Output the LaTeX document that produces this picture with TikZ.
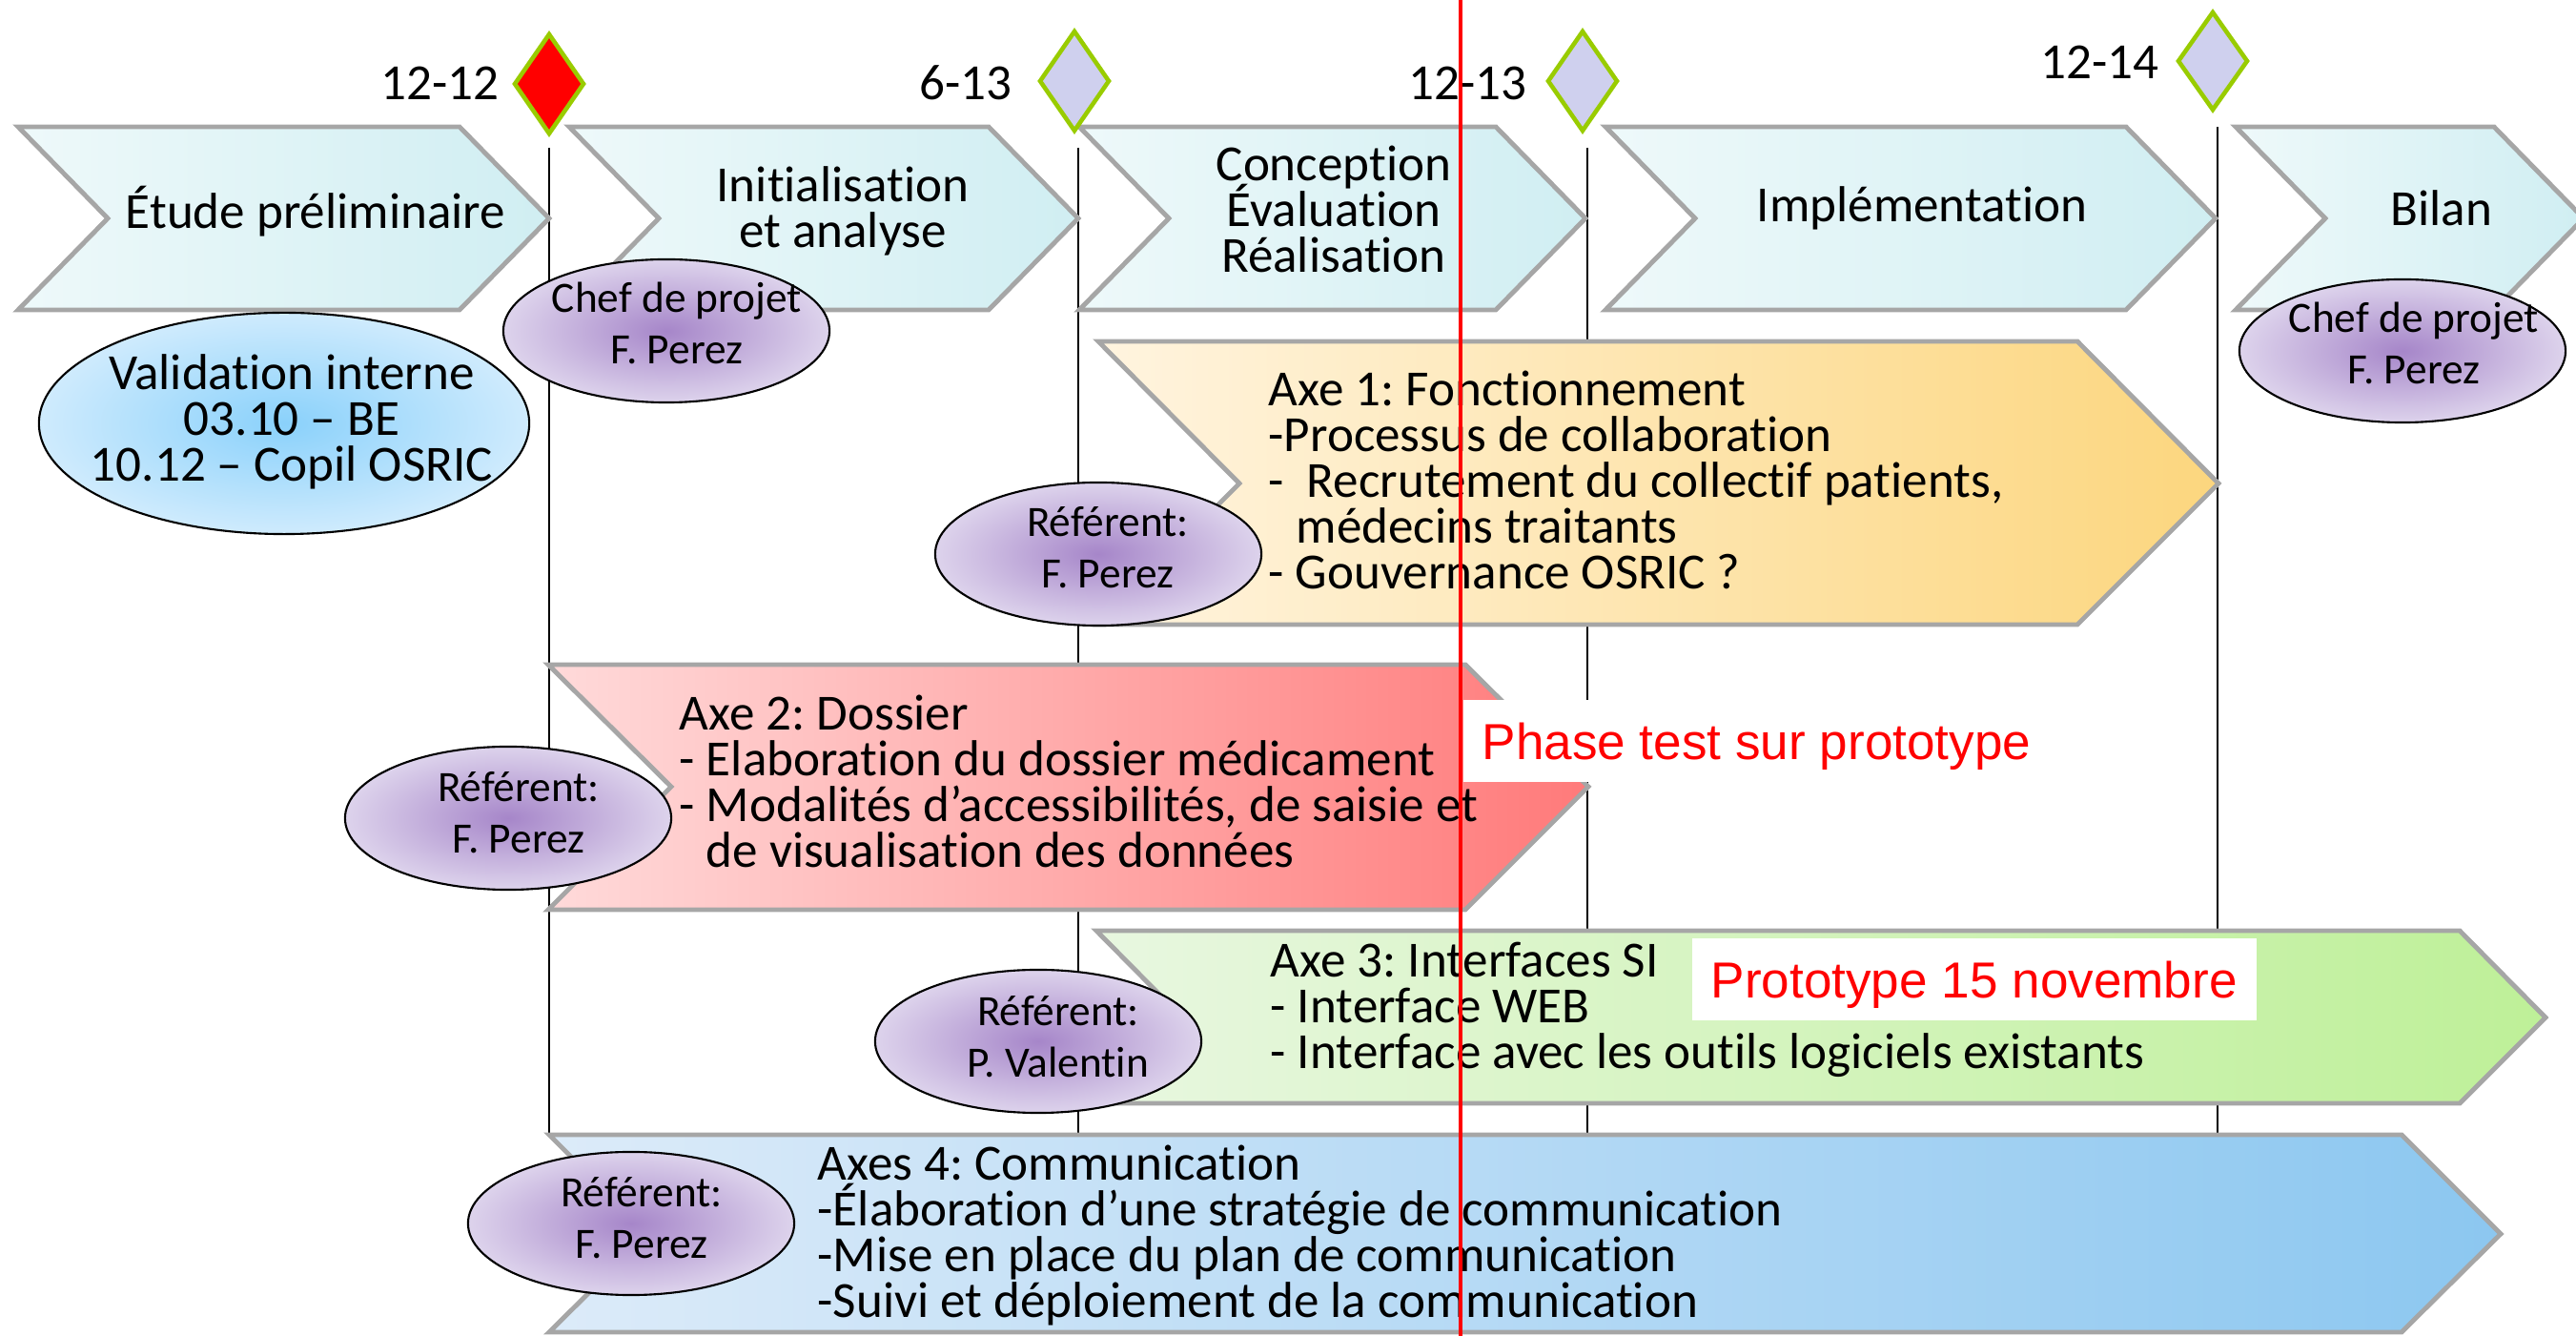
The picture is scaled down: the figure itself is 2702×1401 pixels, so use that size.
\documentclass[tikz,border=0pt]{standalone}
\usepackage{fontspec}
\setmainfont{Carlito}[Ligatures=NoCommon]
\newfontfamily\arialfont{Liberation Sans}
\usetikzlibrary{shapes.geometric}
\frenchspacing
\definecolor{chevgray}{HTML}{A6A6A6}
\definecolor{cyanl}{HTML}{EEF9FA}
\definecolor{cyanr}{HTML}{D0EEF2}
\definecolor{yell}{HTML}{FFF4DF}
\definecolor{yelr}{HTML}{FCD67E}
\definecolor{redl}{HTML}{FFDADA}
\definecolor{redr}{HTML}{FF7A7A}
\definecolor{grnl}{HTML}{E8F7E0}
\definecolor{grnr}{HTML}{BEF098}
\definecolor{blul}{HTML}{DCEBF9}
\definecolor{blur}{HTML}{8CC7F0}
\definecolor{purin}{HTML}{A686C9}
\definecolor{purout}{HTML}{DDD3EC}
\definecolor{skyin}{HTML}{8AD1FB}
\definecolor{skyout}{HTML}{CFEBFD}
\definecolor{msgreen}{HTML}{99CC00}
\definecolor{lav}{HTML}{CFD0EE}
\newcommand\fmain{\fontsize{15.1pt}{13.66pt}\selectfont\lineskiplimit=-\maxdimen}
\newcommand\fsmall{\fontsize{12.9pt}{15.6pt}\selectfont\lineskiplimit=-\maxdimen}
\newcommand\fred{\arialfont\fontsize{15.1pt}{18pt}\selectfont}
\tikzset{
  phasebox/.style={draw=chevgray, line width=1.4pt, line join=miter},
  mline/.style={black, line width=0.6pt},
  msdiam/.style={draw=msgreen, line width=1.3pt, line join=miter},
  person/.style={ellipse, draw=black, line width=0.6pt, inner sep=0pt,
    minimum width=3.42cm, minimum height=1.5cm, inner color=purin, outer color=purout},
  txt/.style={inner sep=0pt, font=\fmain},
  smalltxt/.style={inner sep=0pt, font=\fsmall, align=center, anchor=base},
  redtxt/.style={font=\fred, text=red, fill=white, inner xsep=0.2cm, inner ysep=0pt,
    text height=0.38cm, text depth=0pt, minimum height=0.85cm},
  redline/.style={red, line width=1.15pt}
}
\begin{document}
\begin{tikzpicture}[x=0.01cm,y=-0.01cm]
\useasboundingbox (0,0) rectangle (2702,1401);
% milestone lines
\coordinate (l1a) at (576,155);  \coordinate (l1b) at (576,1190);
\coordinate (l2a) at (1131,155); \coordinate (l2b) at (1131,1190);
\coordinate (l3a) at (1665,155); \coordinate (l3b) at (1665,1190);
\coordinate (l4a) at (2326,133); \coordinate (l4b) at (2326,1190);
\draw[mline] (l1a) -- (l1b);
\draw[mline] (l2a) -- (l2b);
\draw[mline] (l3a) -- (l3b);
\draw[mline] (l4a) -- (l4b);
% top phases
\draw[phasebox, left color=cyanl, right color=cyanr] (19,133) -- (482,133) -- (576,229) -- (482,325) -- (19,325) -- (113,229) -- cycle;
\draw[phasebox, left color=cyanl, right color=cyanr] (597,133) -- (1037,133) -- (1131,229) -- (1037,325) -- (597,325) -- (691,229) -- cycle;
\draw[phasebox, left color=cyanl, right color=cyanr] (1132,133) -- (1569,133) -- (1663,229) -- (1569,325) -- (1132,325) -- (1226,229) -- cycle;
\draw[phasebox, left color=cyanl, right color=cyanr] (1684,133) -- (2230,133) -- (2324,229) -- (2230,325) -- (1684,325) -- (1778,229) -- cycle;
\draw[phasebox, left color=cyanl, right color=cyanr] (2345,133) -- (2616,133) -- (2710,229) -- (2616,325) -- (2345,325) -- (2439,229) -- cycle;
\node[txt, anchor=base] (p1) at (331,240) {Étude préliminaire};
\node[txt, anchor=base, align=center] (p2) at (884,260) {Initialisation\\et analyse};
\node[txt, anchor=base, align=center] (p3) at (1399,286) {Conception\\Évaluation\\Réalisation};
\node[txt, anchor=base] (p4) at (2016,233) {Implémentation};
\node[txt, anchor=base] (p5) at (2561,237) {Bilan};
% milestones
\draw[msdiam, fill=red] (576,36) -- (612,88) -- (576,140) -- (540,88) -- cycle;
\draw[msdiam, fill=lav] (1127,33) -- (1163,85) -- (1127,137) -- (1091,85) -- cycle;
\draw[msdiam, fill=lav] (1660,33) -- (1696,85) -- (1660,137) -- (1624,85) -- cycle;
\draw[msdiam, fill=lav] (2321,13) -- (2357,64) -- (2321,115) -- (2285,64) -- cycle;
\node[txt, anchor=base east] (d1) at (524,105) {12-12};
\node[txt, anchor=base east] (d2) at (1062,105) {6-13};
\node[txt, anchor=base east] (d3) at (1602,105) {12-13};
\node[txt, anchor=base east] (d4) at (2265,83) {12-14};
% axes
\draw[phasebox, left color=yell, right color=yelr] (1152,358) -- (2179,358) -- (2327,507) -- (2179,655) -- (1152,655) -- (1300,507) -- cycle;
\draw[phasebox, left color=redl, right color=redr] (575,697) -- (1537,697) -- (1666,825) -- (1537,954) -- (575,954) -- (704,825) -- cycle;
\draw[phasebox, left color=grnl, right color=grnr] (1150,976) -- (2580,976) -- (2670,1067) -- (2580,1157) -- (1150,1157) -- (1240,1067) -- cycle;
\draw[phasebox, left color=blul, right color=blur] (576,1190) -- (2519,1190) -- (2623,1294) -- (2519,1397) -- (576,1397) -- (680,1294) -- cycle;
\node[txt, anchor=base west, align=left] (a1) at (1330,618) {Axe 1: Fonctionnement\\-Processus de collaboration\\-~~Recrutement du collectif patients,\\\hspace*{0.29cm}médecins traitants\\- Gouvernance OSRIC ?};
\node[txt, anchor=base west, align=left] (a2) at (712,910) {Axe 2: Dossier\\- Elaboration du dossier médicament\\- Modalités d’accessibilités, de saisie et\\\hspace*{0.28cm}de visualisation des données};
\node[txt, anchor=base west, align=left] (a3) at (1332,1121) {Axe 3: Interfaces SI\\- Interface WEB\\- Interface avec les outils logiciels existants};
\node[txt, anchor=base west, align=left] (a4) at (857,1382) {Axes 4: Communication\\-Élaboration d’une stratégie de communication\\-Mise en place du plan de communication\\-Suivi et déploiement de la communication};
% people
\node[ellipse, draw=black, line width=0.6pt, inner sep=0pt, minimum width=5.14cm, minimum height=2.32cm, inner color=skyin, outer color=skyout] (valid) at (298,444) {};
\node[txt, anchor=base, align=center] (validt) at (306,505) {Validation interne\\03.10 – BE\\10.12 – Copil OSRIC};
\node[person] (chef1) at (699,347) {};
\node[smalltxt] (chef1t) at (710,382) {Chef de projet\\F. Perez};
\node[person] (chef2) at (2520,368) {};
\node[smalltxt] (chef2t) at (2532,403) {Chef de projet\\F. Perez};
\node[person] (ref1) at (1152,581) {};
\node[smalltxt] (ref1t) at (1162,617) {Référent:\\F. Perez};
\node[person] (ref2) at (533,858) {};
\node[smalltxt] (ref2t) at (544,895) {Référent:\\F. Perez};
\node[person] (ref3) at (1089,1092) {};
\node[smalltxt] (ref3t) at (1110,1130) {Référent:\\P. Valentin};
\node[person] (ref4) at (662,1283) {};
\node[smalltxt] (ref4t) at (673,1320) {Référent:\\F. Perez};
% red notes
\node[redtxt, anchor=west] (phase) at (1534,777) {Phase test sur prototype};
\node[redtxt, anchor=west] (proto) at (1774,1027) {Prototype 15 novembre};
\coordinate (rtop) at (1532,0);
\coordinate (rbot) at (1532,1401);
\draw[redline] (rtop) -- (rbot);
\end{tikzpicture}
\end{document}
